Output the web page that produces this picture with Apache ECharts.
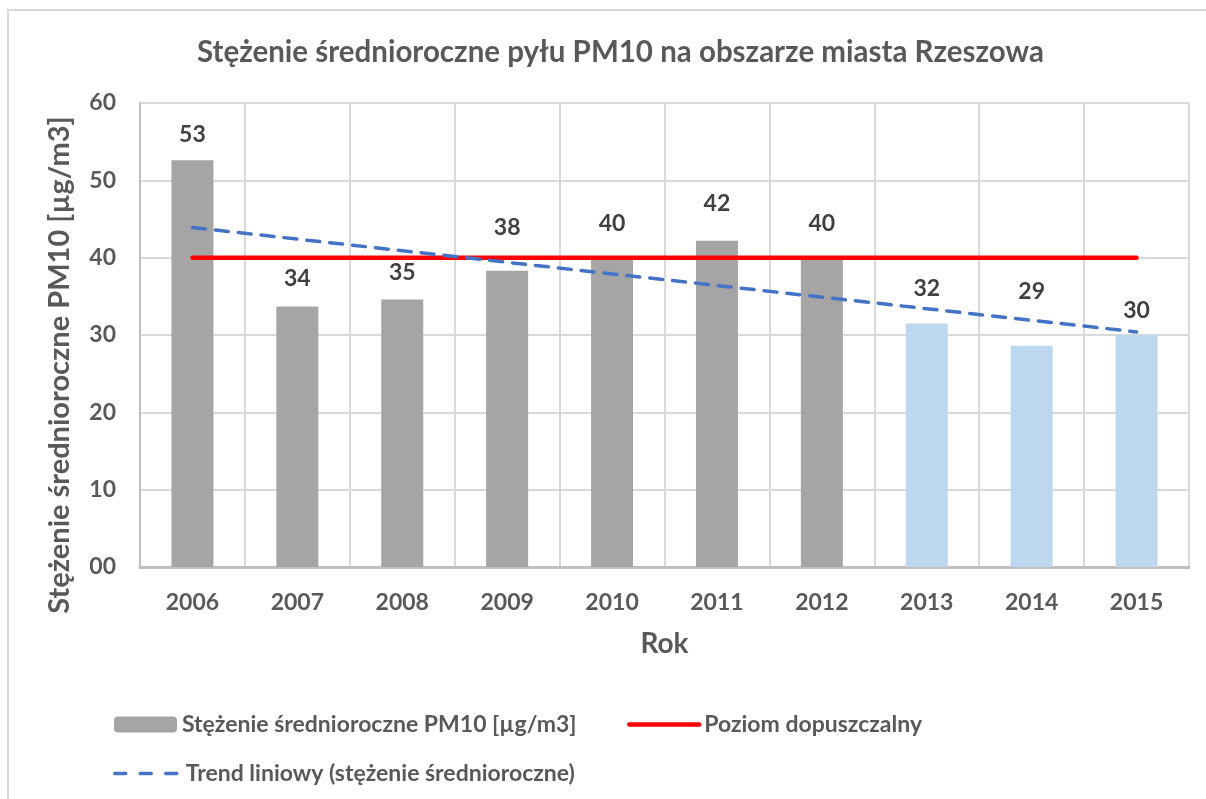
<!DOCTYPE html>
<html>
<head>
<meta charset="utf-8">
<script src="https://cdn.jsdelivr.net/npm/echarts@6/dist/echarts.min.js"></script>
<style>
    html, body { margin: 0; padding: 0; background: #fff; }
    #myChart { width: 1206px; height: 799px; }
</style>
</head>
<body>
<div id="myChart"></div>
<script>
    // dane
    var years = ['2006', '2007', '2008', '2009', '2010', '2011', '2012', '2013', '2014', '2015']
    var pm10 = [52.6, 33.7, 34.6, 38.3, 40.0, 42.2, 40.0, 31.5, 28.6, 30.0]
    var limitLevel = [40, 40, 40, 40, 40, 40, 40, 40, 40, 40]
    // trend: wartość na początku i na końcu (linia prosta)
    var trendEnds = [43.9, 30.4]
    var lastMeasured = '2012'
    var yTicks = [0, 10, 20, 30, 40, 50, 60]

    var font = 'Lato'
    var textGray = '#595959'

    // odstępy etykiet nad słupkami (jak w oryginale)
    var labelLift = [14, 16, 15, 32, 23, 26, 23, 23, 43, 13]

    var barData = pm10.map(function (v, i) {
        var item = { value: v, label: { distance: labelLift[i] } }
        if (years[i] > lastMeasured) {
            item.itemStyle = { color: '#bdd7ee' }
        }
        return item
    })

    var trendData = years.map(function (y, i) {
        if (i === 0) return trendEnds[0]
        if (i === years.length - 1) return trendEnds[1]
        return '-'
    })

    var legendText = { color: textGray, fontSize: 23, fontWeight: 'bold', fontFamily: font }
    // bez kółka w ikonie legendy dla linii
    var noSymbol = { color: 'rgba(0,0,0,0)', borderWidth: 0, opacity: 0 }

    var myChart = echarts.init(document.getElementById('myChart'))

    myChart.setOption({
        animation: false,
        textStyle: { fontFamily: font },
        title: {
            text: 'Stężenie średnioroczne pyłu PM10 na obszarze miasta Rzeszowa',
            left: 192,
            top: 32,
            textStyle: {
                color: textGray,
                fontFamily: font,
                fontWeight: 'bold',
                fontSize: 29.5
            }
        },
        graphic: [{
            type: 'rect',
            shape: { x: 8, y: 10, width: 1220, height: 820 },
            style: { fill: 'none', stroke: '#d9d9d9', lineWidth: 2 },
            silent: true
        }],
        legend: [
            {
                data: ['Stężenie średnioroczne PM10 [µg/m3]'],
                left: 109, top: 708,
                itemWidth: 63, itemHeight: 16,
                textStyle: legendText
            },
            {
                data: ['Poziom dopuszczalny'],
                left: 622, top: 708,
                itemWidth: 70, itemHeight: 16,
                itemStyle: noSymbol,
                lineStyle: { width: 4.5, cap: 'round' },
                textStyle: legendText
            },
            {
                data: ['Trend liniowy (stężenie średnioroczne)'],
                left: 108, top: 757,
                itemWidth: 66, itemHeight: 16,
                itemStyle: noSymbol,
                lineStyle: { width: 3.5, type: [11, 14.5], cap: 'round' },
                textStyle: legendText
            }
        ],
        grid: {
            left: 140,
            top: 103,
            right: 17,
            bottom: 232,
            containLabel: false
        },
        xAxis: {
            type: 'category',
            data: years,
            name: 'Rok',
            nameLocation: 'middle',
            nameGap: 63,
            nameTextStyle: { color: textGray, fontSize: 28, fontWeight: 'bold', fontFamily: font },
            axisLine: { show: true, lineStyle: { color: '#bfbfbf', width: 3 } },
            axisTick: { show: false },
            axisLabel: { color: textGray, fontSize: 23, fontWeight: 'bold', margin: 24 },
            splitLine: { show: true, lineStyle: { color: '#d9d9d9', width: 2 } }
        },
        yAxis: {
            type: 'value',
            min: yTicks[0],
            max: yTicks[yTicks.length - 1],
            interval: 10,
            name: 'Stężenie średnioroczne PM10 [µg/m3]',
            nameLocation: 'middle',
            nameGap: 66,
            nameTextStyle: {
                color: textGray, fontSize: 29, fontWeight: 'bold', fontFamily: font,
                padding: [0, 60, 0, 0]
            },
            axisLine: { show: true, lineStyle: { color: '#bfbfbf', width: 2 } },
            axisTick: { show: false },
            axisLabel: {
                color: textGray, fontSize: 23, fontWeight: 'bold', margin: 24,
                formatter: function (v) { return v < 10 ? '0' + v : String(v) }
            },
            splitLine: { show: true, lineStyle: { color: '#d9d9d9', width: 2 } }
        },
        series: [
            {
                name: 'Stężenie średnioroczne PM10 [µg/m3]',
                type: 'bar',
                data: barData,
                barWidth: 42,
                itemStyle: { color: '#a5a5a5' },
                label: {
                    show: true,
                    position: 'top',
                    color: '#404040',
                    fontSize: 23,
                    fontWeight: 'bold',
                    fontFamily: font,
                    formatter: function (p) { return Math.round(p.value) }
                },
                z: 1
            },
            {
                name: 'Poziom dopuszczalny',
                type: 'line',
                data: limitLevel,
                symbol: 'none',
                lineStyle: { color: '#ff0000', width: 4.5, cap: 'round' },
                itemStyle: { color: '#ff0000' },
                z: 3
            },
            {
                name: 'Trend liniowy (stężenie średnioroczne)',
                type: 'line',
                data: trendData,
                connectNulls: true,
                symbol: 'none',
                lineStyle: { color: '#4472c4', width: 3.5, type: [13, 10], cap: 'round' },
                itemStyle: { color: '#4472c4' },
                z: 4
            }
        ]
    })
</script>
</body>
</html>
